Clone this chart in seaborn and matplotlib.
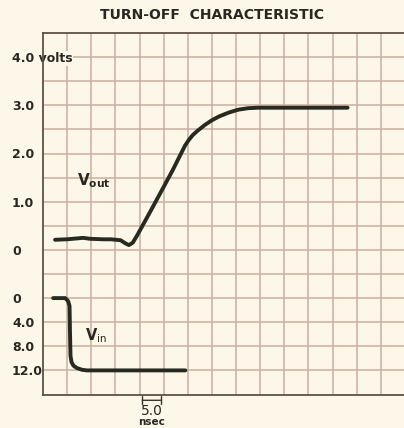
import matplotlib
matplotlib.use("Agg")
import matplotlib.pyplot as plt
import seaborn as sns
import pandas as pd

# ---- data ----
title = "TURN-OFF  CHARACTERISTIC"
vout_t = [2.5, 5.0, 8.3, 9.8, 12.5, 14.1, 16.1, 17.0, 17.8, 18.6, 19.5, 22.2,
          24.8, 26.9, 28.6, 29.4, 30.2, 31.0, 32.0, 33.5, 35.0, 36.5, 38.5,
          40.5, 42.5, 44.5, 63.1]
vout_v = [0.21, 0.22, 0.25, 0.23, 0.22, 0.22, 0.20, 0.14, 0.10, 0.15, 0.30, 0.79,
          1.27, 1.66, 2.00, 2.16, 2.28, 2.38, 2.47, 2.59, 2.69, 2.77, 2.85,
          2.91, 2.94, 2.95, 2.95]
vin_t = [2.1, 4.6, 5.2, 5.5, 5.6, 5.7, 5.9, 6.3, 7.0, 8.1, 9.1, 29.5]
vin_v = [0.0, 0.0, 0.5, 1.3, 6.0, 9.6, 10.6, 11.2, 11.6, 11.9, 12.0, 12.0]
vout_ticks = [0, 1, 2, 3, 4]
vout_labels = ["0", "1.0", "2.0", "3.0", "4.0 volts"]
vin_ticks = [0, 4, 8, 12]
vin_labels = ["0", "4.0", "8.0", "12.0"]
time_grid = [5, 10, 15, 20, 25, 30, 35, 40, 45, 50, 55, 60, 65, 70, 75]
volt_grid = [-2.5, -2.0, -1.5, -1.0, -0.5, 0.0, 0.5, 1.0, 1.5, 2.0, 2.5, 3.0, 3.5, 4.0]
scale_bar = [20, 25]

sns.set_theme(style="white")
plt.rcParams["font.family"] = ["DejaVu Sans"]

bg = "#fcf7e8"
grid_c = "#c9af9f"
edge_c = "#5e5148"
ink = "#262a20"

fig = plt.figure(figsize=(4.04, 4.28), dpi=100, facecolor=bg)
rect = [43 / 404, 33.5 / 428, 362 / 404, 361.5 / 428]
ax1 = fig.add_axes(rect)
ax1.set_facecolor(bg)

df_out = pd.DataFrame({"t": vout_t, "v": vout_v})
df_in = pd.DataFrame({"t": vin_t, "v": vin_v})

ax1.set_xlim(0, 75)
ax1.set_ylim(-3, 4.5)
ax1.set_xticks(time_grid)
ax1.set_xticklabels([])
ax1.set_yticks(volt_grid, minor=True)
ax1.set_yticks(vout_ticks)
ax1.set_yticklabels(vout_labels)
ax1.grid(True, which="both", color=grid_c, linewidth=1.1)
ax1.tick_params(axis="both", which="both", length=0)
ax1.tick_params(axis="y", pad=22.3, labelsize=9)
for lbl in ax1.get_yticklabels():
    lbl.set_ha("left")
    lbl.set_fontweight("bold")
    lbl.set_color("#2a2622")
    lbl.set_bbox(dict(facecolor=bg, edgecolor="none", pad=0.5))
for name, sp in ax1.spines.items():
    sp.set_color(edge_c)
    sp.set_linewidth(1.3)
    sp.set_zorder(1)
ax1.spines["right"].set_visible(False)

sns.lineplot(data=df_out, x="t", y="v", ax=ax1, sort=False, estimator=None,
             color=ink, linewidth=2.8)
ax1.set_xlabel("")
ax1.set_ylabel("")

ax2 = fig.add_axes(rect, sharex=ax1)
ax2.patch.set_visible(False)
for sp in ax2.spines.values():
    sp.set_visible(False)
ax2.set_ylim(16, -44)
sns.lineplot(data=df_in, x="t", y="v", ax=ax2, sort=False, estimator=None,
             color=ink, linewidth=2.8)
ax2.set_xlabel("")
ax2.set_ylabel("")
ax2.grid(False)
ax2.set_yticks(vin_ticks)
ax2.set_yticklabels(vin_labels)
ax2.tick_params(axis="both", length=0)
ax2.tick_params(axis="x", labelbottom=False)
ax2.tick_params(axis="y", pad=22.3, labelsize=9)
for lbl in ax2.get_yticklabels():
    lbl.set_ha("left")
    lbl.set_fontweight("bold")
    lbl.set_color("#2a2622")

# curve labels
ax1.text(7.0, 1.43, r"V$_{\mathbf{out}}$", fontsize=11, fontweight="bold",
         color="#2a2622", va="center", ha="left")
ax2.text(8.7, 6.3, r"V$_{\mathrm{in}}$", fontsize=10.5, fontweight="bold",
         color="#2a2622", va="center", ha="left")

# time scale marker
tr = ax1.get_xaxis_transform()
ax1.annotate("", xy=(scale_bar[0], -0.016), xytext=(scale_bar[1], -0.016),
             xycoords=tr, textcoords=tr, annotation_clip=False,
             arrowprops=dict(arrowstyle="|-|,widthA=0.25,widthB=0.25",
                             color="#3a3430", linewidth=1.0))
mid = (scale_bar[0] + scale_bar[1]) / 2
ax1.text(mid, -0.045, "5.0", transform=tr, ha="center", va="center",
         fontsize=10, color="#2a2622")
ax1.text(mid, -0.075, "nsec", transform=tr, ha="center", va="center",
         fontsize=7.5, fontweight="bold", color="#2a2622")

fig.text(212 / 404, 1 - 15 / 428, title, ha="center", va="center",
         fontsize=10, fontweight="bold", color="#2a2622")

fig.savefig("out.png", dpi=100, facecolor=bg)
